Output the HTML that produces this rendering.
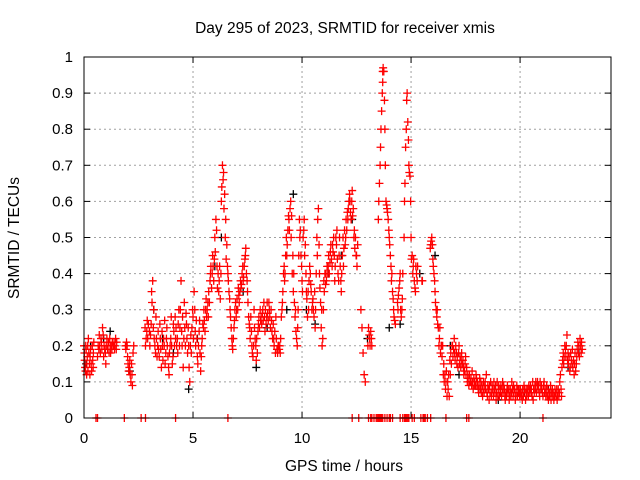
<!DOCTYPE html>
<html><head><meta charset="utf-8">
<style>
html,body{margin:0;padding:0;background:#fff;}
svg{display:block;font-family:"Liberation Sans",sans-serif;}
</style></head>
<body>
<svg id="chart" width="640" height="480" viewBox="0 0 640 480">
<text x="345" y="33" font-size="15.5" text-anchor="middle">Day 295 of 2023, SRMTID for receiver xmis</text>
<text x="344" y="471" font-size="15.5" text-anchor="middle">GPS time / hours</text>
<text x="19" y="238" font-size="15.5" text-anchor="middle" transform="rotate(-90 19 238)">SRMTID / TECUs</text>
<g id="grid"></g>
<g id="ticks"></g>
<g id="marks"></g>
<rect x="84" y="57" width="527" height="361" fill="none" stroke="#000" stroke-width="1"/>
</svg>
<script>
const xTicks = [0,5,10,15,20];
const yTicks = [0,0.1,0.2,0.3,0.4,0.5,0.6,0.7,0.8,0.9,1];
const yTickLabels = ["0","0.1","0.2","0.3","0.4","0.5","0.6","0.7","0.8","0.9","1"];
const blackPoints = [[0.1,0.15],[0.3,0.2],[0.9,0.22],[1.2,0.24],[2.1,0.13],[3.2,0.3],[3.6,0.22],[4.1,0.18],[4.8,0.08],[5.2,0.22],[6.0,0.42],[6.3,0.5],[7.3,0.35],[7.9,0.14],[8.4,0.25],[9.3,0.3],[9.6,0.62],[10.2,0.3],[10.6,0.26],[11.2,0.4],[11.8,0.45],[12.3,0.55],[13.0,0.22],[14.0,0.25],[14.5,0.26],[15.4,0.4],[16.1,0.45],[16.8,0.2],[17.2,0.12],[18.1,0.08],[19.0,0.05],[20.2,0.07],[21.3,0.08],[22.2,0.14],[22.7,0.19]];
const redPoints = [
[0.02,0.18],[0.05,0.14],[0.08,0.2],[0.12,0.12],[0.15,0.17],[0.2,0.22],[0.25,0.15],[0.3,0.19],[0.35,0.13],[0.4,0.16],[0.45,0.21],
[0.65,0.2],[0.7,0.23],[0.75,0.18],[0.8,0.21],[0.85,0.25],[0.9,0.17],[0.95,0.19],[1.0,0.15],[1.05,0.22],[1.1,0.2],[1.15,0.18],[1.2,0.2],[1.3,0.21],[1.4,0.19],[1.45,0.22],
[1.9,0.2],[1.95,0.21],[2.0,0.17],[2.05,0.13],[2.1,0.16],[2.15,0.1],[2.2,0.12],[2.25,0.18],
[2.8,0.25],[2.85,0.22],[2.9,0.27],[3.0,0.24],[3.1,0.35],[3.15,0.38],[3.2,0.3],[3.25,0.2],[3.3,0.28],[3.35,0.17],[3.4,0.24],[3.5,0.22],[3.55,0.14],[3.6,0.2],[3.7,0.27],[3.75,0.18],[3.8,0.25],[3.9,0.12],[3.95,0.2],[4.0,0.28],[4.05,0.15],[4.1,0.26],[4.2,0.22],[4.3,0.18],[4.35,0.3],[4.4,0.25],[4.45,0.38],[4.5,0.2],[4.55,0.14],[4.6,0.32],[4.7,0.26],[4.8,0.2],[4.85,0.1],[4.9,0.23],[5.0,0.28],[5.05,0.35],[5.1,0.24],[5.2,0.17],[5.3,0.27],[5.35,0.13],[5.4,0.2],[5.5,0.3],[5.55,0.24],[5.6,0.33],[5.7,0.28],[5.8,0.4],[5.85,0.36],[5.9,0.45],[6.0,0.5],[6.05,0.55],[6.1,0.42],[6.2,0.38],[6.25,0.33],[6.3,0.6],[6.35,0.7],[6.4,0.68],[6.45,0.62],[6.5,0.55],[6.55,0.48],[6.6,0.4],[6.65,0.35],[6.7,0.3],[6.75,0.25],[6.8,0.2],[6.85,0.22],[6.9,0.27],[7.0,0.3],[7.1,0.34],[7.2,0.36],[7.3,0.38],[7.35,0.42],[7.4,0.45],[7.45,0.4],[7.5,0.35],[7.55,0.28],[7.6,0.25],[7.7,0.2],[7.75,0.17],[7.8,0.3],[7.85,0.22],[7.9,0.16],[8.0,0.26],[8.1,0.27],[8.2,0.3],[8.3,0.24],[8.4,0.32],[8.5,0.3],[8.6,0.27],[8.7,0.22],[8.8,0.28],[8.9,0.2],[9.0,0.18],[9.1,0.32],[9.2,0.38],[9.3,0.45],[9.35,0.52],[9.4,0.55],[9.45,0.58],[9.5,0.5],[9.55,0.4],[9.6,0.35],[9.7,0.3],[9.75,0.22],[9.8,0.25],[9.9,0.5],[9.95,0.45],[10.0,0.38],[10.1,0.55],[10.15,0.48],[10.2,0.35],[10.3,0.3],[10.35,0.42],[10.4,0.37],[10.5,0.33],[10.6,0.25],[10.7,0.45],[10.75,0.58],[10.8,0.4],[10.9,0.3],[10.95,0.22],[11.0,0.38],[11.1,0.4],[11.2,0.42],[11.3,0.46],[11.4,0.48],[11.5,0.38],[11.6,0.52],[11.7,0.45],[11.8,0.35],[11.9,0.42],[12.0,0.5],[12.1,0.55],[12.2,0.6],[12.3,0.63],[12.35,0.58],[12.4,0.52],[12.5,0.45],[12.55,0.48],
[12.7,0.3],[12.75,0.25],[12.8,0.18],[12.85,0.12],[12.9,0.1],[13.1,0.22],[13.15,0.24],[13.2,0.2],
[13.5,0.55],[13.55,0.65],[13.6,0.75],[13.65,0.85],[13.7,0.93],[13.72,0.97],[13.75,0.96],[13.8,0.8],[13.85,0.6],[13.9,0.58],[13.95,0.55],[14.0,0.5],[14.05,0.45],[14.1,0.38],[14.15,0.35],[14.2,0.3],[14.25,0.27],
[14.4,0.3],[14.45,0.36],[14.5,0.4],[14.55,0.28],[14.6,0.33],[14.7,0.6],[14.75,0.75],[14.8,0.88],[14.85,0.82],[14.9,0.7],[14.95,0.67],[15.0,0.5],[15.05,0.45],[15.1,0.42],[15.15,0.38],[15.2,0.35],[15.25,0.4],[15.5,0.38],
[15.9,0.48],[15.95,0.5],[16.0,0.44],[16.05,0.4],[16.1,0.35],[16.2,0.3],[16.25,0.25],[16.3,0.22],[16.35,0.18],[16.4,0.2],[16.5,0.15],[16.55,0.12],[16.6,0.1],[16.7,0.08],[16.75,0.06],[16.8,0.12],[16.9,0.2],[17.0,0.18],[17.1,0.15],[17.2,0.2],[17.3,0.16],[17.4,0.14],[17.5,0.17],[17.6,0.12],[17.7,0.1],[17.8,0.13],[17.9,0.09],[18.0,0.11],[18.1,0.07],[18.2,0.1],[18.3,0.08],[18.4,0.1],[18.5,0.06],[18.6,0.09],[18.7,0.07],[18.8,0.1],[18.9,0.05],[19.0,0.08],[19.1,0.07],[19.2,0.1],[19.3,0.06],[19.4,0.08],[19.5,0.05],[19.6,0.07],[19.7,0.09],[19.8,0.06],[19.9,0.08],[20.0,0.07],[20.1,0.05],[20.2,0.08],[20.3,0.06],[20.4,0.09],[20.5,0.07],[20.6,0.05],[20.7,0.08],[20.8,0.1],[20.9,0.06],[21.0,0.08],[21.1,0.1],[21.2,0.07],[21.3,0.05],[21.4,0.09],[21.5,0.06],[21.6,0.08],[21.7,0.05],[21.8,0.07],[21.9,0.06],
[22.0,0.15],[22.05,0.2],[22.1,0.17],[22.15,0.23],[22.2,0.18],[22.3,0.14],[22.35,0.16],[22.4,0.19],[22.5,0.15],[22.55,0.13],[22.6,0.17],[22.7,0.2],[22.75,0.22],[22.8,0.18]
];
const redExtra = [
[0.0,0.2],[0.03,0.16],[0.07,0.13],[0.1,0.19],[0.13,0.15],[0.17,0.2],[0.18,0.13],[0.22,0.18],[0.27,0.12],[0.28,0.17],[0.33,0.15],[0.38,0.2],[0.42,0.14],[0.43,0.18],
[0.62,0.17],[0.68,0.19],[0.72,0.2],[0.78,0.22],[0.82,0.19],[0.88,0.23],[0.92,0.2],[0.98,0.18],[1.02,0.2],[1.08,0.19],[1.12,0.21],[1.18,0.22],[1.22,0.18],[1.25,0.2],[1.28,0.19],[1.35,0.2],[1.38,0.21],[1.42,0.2],[1.48,0.19],[1.5,0.21],
[1.92,0.19],[1.98,0.2],[2.02,0.15],[2.08,0.14],[2.12,0.12],[2.18,0.15],[2.22,0.09],[2.28,0.2],
[2.82,0.2],[2.88,0.24],[2.92,0.22],[2.95,0.26],[3.02,0.2],[3.05,0.23],[3.08,0.26],[3.12,0.32],[3.18,0.25],[3.22,0.22],[3.28,0.18],[3.32,0.22],[3.38,0.2],[3.42,0.19],[3.45,0.17],[3.48,0.26],[3.52,0.19],[3.58,0.24],[3.62,0.16],[3.65,0.22],[3.68,0.2],[3.72,0.15],[3.78,0.22],[3.82,0.2],[3.85,0.17],[3.88,0.14],[3.92,0.18],[3.98,0.22],[4.02,0.2],[4.08,0.17],[4.12,0.24],[4.15,0.2],[4.18,0.28],[4.22,0.25],[4.25,0.2],[4.28,0.22],[4.32,0.26],[4.38,0.2],[4.42,0.3],[4.48,0.24],[4.52,0.28],[4.58,0.22],[4.62,0.25],[4.65,0.2],[4.68,0.29],[4.72,0.22],[4.75,0.18],[4.78,0.25],[4.82,0.14],[4.88,0.2],[4.92,0.18],[4.95,0.25],[4.98,0.3],[5.02,0.22],[5.08,0.3],[5.12,0.2],[5.15,0.27],[5.18,0.22],[5.22,0.15],[5.25,0.2],[5.28,0.24],[5.32,0.18],[5.38,0.17],[5.42,0.22],[5.45,0.26],[5.48,0.25],[5.52,0.27],[5.58,0.3],[5.62,0.28],[5.65,0.3],[5.68,0.32],[5.72,0.35],[5.75,0.32],[5.78,0.38],[5.82,0.42],[5.88,0.4],[5.92,0.42],[5.95,0.38],[5.98,0.44],[6.02,0.46],[6.08,0.52],[6.12,0.36],[6.15,0.4],[6.18,0.35],[6.22,0.42],[6.28,0.4],[6.32,0.64],[6.38,0.66],[6.42,0.58],[6.48,0.5],[6.52,0.44],[6.58,0.42],[6.62,0.38],[6.68,0.33],[6.72,0.28],[6.78,0.22],[6.82,0.19],[6.88,0.25],[6.92,0.3],[6.95,0.32],[6.98,0.28],[7.02,0.33],[7.05,0.3],[7.08,0.36],[7.12,0.32],[7.15,0.35],[7.18,0.38],[7.22,0.37],[7.25,0.4],[7.28,0.42],[7.32,0.39],[7.38,0.44],[7.42,0.47],[7.48,0.38],[7.52,0.32],[7.58,0.26],[7.62,0.22],[7.65,0.28],[7.68,0.24],[7.72,0.18],[7.78,0.2],[7.82,0.25],[7.88,0.2],[7.92,0.22],[7.95,0.18],[7.98,0.24],[8.02,0.28],[8.05,0.25],[8.08,0.3],[8.12,0.28],[8.15,0.26],[8.18,0.29],[8.22,0.27],[8.25,0.32],[8.28,0.28],[8.32,0.3],[8.35,0.26],[8.38,0.28],[8.42,0.29],[8.45,0.27],[8.48,0.32],[8.52,0.28],[8.55,0.25],[8.58,0.3],[8.62,0.24],[8.65,0.22],[8.68,0.26],[8.72,0.2],[8.75,0.24],[8.78,0.18],[8.82,0.22],[8.85,0.19],[8.88,0.18],[8.92,0.2],[8.95,0.19],[8.98,0.2],[9.02,0.22],[9.05,0.28],[9.08,0.3],[9.12,0.35],[9.15,0.4],[9.18,0.42],[9.22,0.4],[9.25,0.45],[9.28,0.5],[9.32,0.48],[9.38,0.56],[9.42,0.52],[9.48,0.6],[9.52,0.56],[9.58,0.45],[9.62,0.4],[9.65,0.32],[9.68,0.28],[9.72,0.24],[9.78,0.2],[9.82,0.3],[9.85,0.45],[9.88,0.55],[9.92,0.52],[9.98,0.42],[10.02,0.35],[10.05,0.5],[10.08,0.52],[10.12,0.45],[10.18,0.4],[10.22,0.33],[10.25,0.28],[10.28,0.35],[10.32,0.38],[10.38,0.4],[10.42,0.35],[10.45,0.3],[10.48,0.32],[10.52,0.3],[10.55,0.28],[10.58,0.35],[10.62,0.3],[10.65,0.4],[10.68,0.5],[10.72,0.55],[10.78,0.48],[10.82,0.36],[10.85,0.32],[10.88,0.25],[10.92,0.2],[10.98,0.3],[11.02,0.35],[11.05,0.4],[11.08,0.37],[11.12,0.38],[11.15,0.42],[11.18,0.4],[11.22,0.45],[11.25,0.4],[11.28,0.43],[11.32,0.48],[11.35,0.44],[11.38,0.42],[11.42,0.46],[11.45,0.5],[11.48,0.45],[11.52,0.42],[11.55,0.5],[11.58,0.48],[11.62,0.44],[11.65,0.4],[11.68,0.38],[11.72,0.5],[11.75,0.42],[11.78,0.38],[11.82,0.4],[11.85,0.45],[11.88,0.5],[11.92,0.47],[11.95,0.52],[11.98,0.48],[12.02,0.55],[12.05,0.52],[12.08,0.57],[12.12,0.58],[12.15,0.6],[12.18,0.62],[12.22,0.57],[12.25,0.55],[12.28,0.6],[12.32,0.56],[12.38,0.5],[12.42,0.47],[12.45,0.5],[12.48,0.45],[12.52,0.42],
[13.02,0.2],[13.05,0.25],[13.08,0.23],[13.12,0.2],[13.18,0.22],
[13.52,0.6],[13.58,0.7],[13.62,0.8],[13.68,0.9],[13.7,0.96],[13.78,0.88],[13.82,0.7],[13.88,0.59],[13.92,0.57],[13.98,0.52],[14.02,0.48],[14.08,0.42],[14.12,0.4],[14.18,0.33],[14.22,0.28],[14.28,0.26],
[14.38,0.32],[14.42,0.34],[14.48,0.38],[14.52,0.3],[14.58,0.3],[14.62,0.4],[14.68,0.5],[14.72,0.65],[14.78,0.8],[14.82,0.9],[14.88,0.77],[14.92,0.68],[14.98,0.6],[15.02,0.44],[15.08,0.4],[15.12,0.44],[15.18,0.36],[15.22,0.42],[15.28,0.38],[15.3,0.42],[15.52,0.38],
[15.88,0.47],[15.92,0.49],[15.98,0.48],[16.02,0.42],[16.08,0.38],[16.12,0.32],[16.15,0.3],[16.18,0.28],[16.22,0.26],[16.28,0.2],[16.32,0.25],[16.38,0.2],[16.42,0.17],[16.45,0.2],[16.48,0.12],[16.52,0.1],[16.58,0.08],[16.62,0.13],[16.65,0.06],[16.68,0.1],[16.72,0.12],[16.78,0.16],[16.82,0.18],[16.85,0.15],[16.88,0.2],[16.92,0.17],[16.95,0.19],[16.98,0.22],[17.02,0.16],[17.05,0.2],[17.08,0.18],[17.12,0.17],[17.15,0.14],[17.18,0.18],[17.22,0.15],[17.25,0.17],[17.28,0.14],[17.32,0.18],[17.35,0.15],[17.38,0.16],[17.42,0.12],[17.45,0.13],[17.48,0.15],[17.52,0.12],[17.55,0.14],[17.58,0.1],[17.62,0.11],[17.65,0.09],[17.68,0.12],[17.72,0.1],[17.75,0.11],[17.78,0.09],[17.82,0.1],[17.85,0.08],[17.88,0.11],[17.92,0.1],[17.95,0.09],[17.98,0.12],[18.02,0.09],[18.05,0.1],[18.08,0.08],[18.12,0.09],[18.15,0.11],[18.18,0.08],[18.22,0.07],[18.25,0.09],[18.28,0.06],[18.32,0.1],[18.35,0.07],[18.38,0.09],[18.42,0.08],[18.45,0.12],[18.48,0.07],[18.52,0.09],[18.55,0.08],[18.58,0.05],[18.62,0.07],[18.65,0.1],[18.68,0.06],[18.72,0.09],[18.75,0.08],[18.78,0.06],[18.82,0.08],[18.85,0.07],[18.88,0.09],[18.92,0.07],[18.95,0.1],[18.98,0.06],[19.02,0.09],[19.05,0.06],[19.08,0.08],[19.12,0.09],[19.15,0.06],[19.18,0.08],[19.22,0.07],[19.25,0.09],[19.28,0.08],[19.32,0.05],[19.35,0.07],[19.38,0.06],[19.42,0.09],[19.45,0.07],[19.48,0.08],[19.52,0.06],[19.55,0.08],[19.58,0.06],[19.62,0.1],[19.65,0.08],[19.68,0.06],[19.72,0.07],[19.75,0.08],[19.78,0.05],[19.82,0.07],[19.85,0.09],[19.88,0.06],[19.92,0.07],[19.95,0.08],[19.98,0.06],[20.02,0.08],[20.05,0.06],[20.08,0.07],[20.12,0.08],[20.15,0.06],[20.18,0.09],[20.22,0.07],[20.25,0.05],[20.28,0.08],[20.32,0.07],[20.35,0.08],[20.38,0.06],[20.42,0.07],[20.45,0.08],[20.48,0.09],[20.52,0.08],[20.55,0.06],[20.58,0.1],[20.62,0.08],[20.65,0.07],[20.68,0.09],[20.72,0.1],[20.75,0.07],[20.78,0.09],[20.82,0.08],[20.85,0.09],[20.88,0.07],[20.92,0.1],[20.95,0.08],[20.98,0.09],[21.02,0.07],[21.05,0.06],[21.08,0.09],[21.12,0.07],[21.15,0.08],[21.18,0.06],[21.22,0.09],[21.25,0.06],[21.28,0.08],[21.32,0.07],[21.35,0.06],[21.38,0.07],[21.42,0.05],[21.45,0.07],[21.48,0.08],[21.52,0.07],[21.55,0.05],[21.58,0.06],[21.62,0.07],[21.65,0.06],[21.68,0.08],[21.72,0.06],[21.75,0.08],[21.78,0.06],[21.82,0.1],[21.85,0.12],[21.88,0.08],[21.92,0.14],
[21.95,0.16],[21.98,0.18],[22.02,0.17],[22.08,0.19],[22.12,0.2],[22.18,0.16],[22.22,0.15],[22.25,0.17],[22.28,0.13],[22.32,0.18],[22.38,0.15],[22.42,0.14],[22.45,0.16],[22.48,0.12],[22.52,0.18],[22.58,0.15],[22.62,0.19],[22.65,0.21],[22.68,0.18],[22.72,0.17],[22.78,0.2],[22.82,0.21],[22.85,0.19]
];
const zeroHours = [0.55,0.62,1.85,2.62,2.82,4.2,6.6,12.3,12.6,13.05,13.15,13.2,13.3,13.4,13.45,13.5,13.55,13.6,13.65,13.7,13.8,13.9,14.0,14.05,14.15,14.5,14.62,14.7,14.75,14.8,14.85,14.9,15.05,15.15,15.45,15.55,15.6,15.65,15.75,15.9,16.6,17.55,17.65,21.05];
const X0=84, X1=611, Y0=418, Y1=57, XMAX=24.17;
function sx(h){return X0+(h/XMAX)*(X1-X0);}
function sy(v){return Y0-v*(Y0-Y1);}
const NS="http://www.w3.org/2000/svg";
const grid=document.getElementById('grid'), ticks=document.getElementById('ticks'), marks=document.getElementById('marks');
function mk(tag,attrs,parent){const e=document.createElementNS(NS,tag);for(const k in attrs)e.setAttribute(k,attrs[k]);parent.appendChild(e);return e;}
yTicks.forEach((v,i)=>{
  const y=sy(v);
  if(v>0&&v<1){const g=mk('line',{x1:X0,x2:X1,y1:y,y2:y,stroke:'#a0a0a0','stroke-dasharray':'2,3'},grid);
  
  }
  mk('line',{x1:X0,x2:X0+6,y1:y,y2:y,stroke:'#000'},ticks);
  mk('line',{x1:X1,x2:X1-6,y1:y,y2:y,stroke:'#000'},ticks);
  const t=mk('text',{x:X0-11,y:y+5,'font-size':15,'text-anchor':'end'},ticks);t.textContent=yTickLabels[i];
  
  
});
xTicks.forEach(h=>{
  const x=sx(h);
  if(h>0){const g=mk('line',{x1:x,x2:x,y1:Y0,y2:Y1,stroke:'#a0a0a0','stroke-dasharray':'2,3'},grid);
  
  }
  mk('line',{x1:x,x2:x,y1:Y0,y2:Y0-6,stroke:'#000'},ticks);
  mk('line',{x1:x,x2:x,y1:Y1,y2:Y1+6,stroke:'#000'},ticks);
  const t=mk('text',{x:x,y:Y0+25,'font-size':15,'text-anchor':'middle'},ticks);t.textContent=String(h);
  
  
});
function plus(h,v,color,name){
  const x=sx(h),y=sy(v);
  const p=mk('path',{d:`M${x-4},${y}H${x+4}M${x},${y-4}V${y+4}`,stroke:color,'stroke-width':1.3,fill:'none'},marks);
  
  
}
blackPoints.forEach(p=>plus(p[0],p[1],'#000','black-point'));
redPoints.forEach(p=>plus(p[0],p[1],'#ff0000','red-point'));
redExtra.forEach(p=>plus(p[0],p[1],'#ff0000','red-point'));
zeroHours.forEach(h=>plus(h,0,'#ff0000','zero-point'));
</script>
</body></html>
